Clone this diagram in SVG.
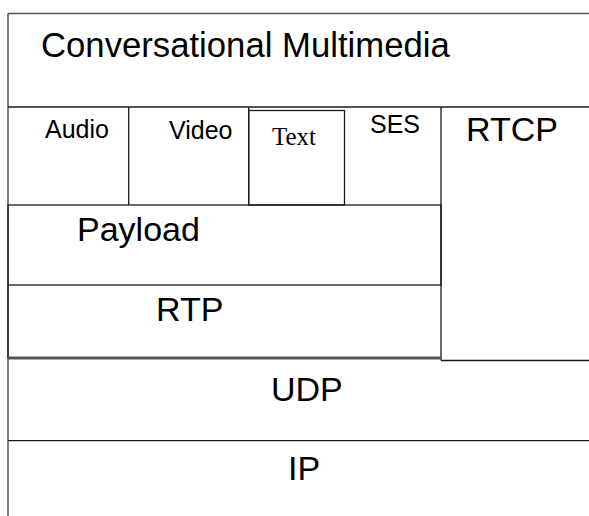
<svg xmlns="http://www.w3.org/2000/svg" width="589" height="516" viewBox="0 0 589 516">
<style>
.ln{stroke:#1a1a1a;stroke-width:1.3;fill:none}
.gr{stroke:#555;stroke-width:1.5;fill:none}
.big{font-family:"Liberation Sans",Arial,sans-serif;font-size:34px;fill:#000}
.sm{font-family:"Liberation Sans",Arial,sans-serif;font-size:25px;fill:#000}
.serif{font-family:"Liberation Serif","Times New Roman",serif;font-size:25px;fill:#000}
</style>
<rect width="589" height="516" fill="#fff"/>
<g id="frame">
<line class="gr" x1="8" y1="13.5" x2="589" y2="13.5"/>
<line class="gr" x1="8" y1="13.5" x2="8" y2="516"/>
</g>
<g id="conversational-multimedia">
<line class="ln" x1="8" y1="107" x2="589" y2="107"/>
<text class="big" x="41" y="57" style="font-size:34.7px">Conversational Multimedia</text>
</g>
<g id="audio">
<line class="ln" x1="128.7" y1="107" x2="128.7" y2="205"/>
<text class="sm" x="45" y="138">Audio</text>
</g>
<g id="video">
<line class="ln" x1="248.7" y1="107" x2="248.7" y2="205"/>
<text class="sm" x="169" y="139">Video</text>
</g>
<g id="text">
<rect class="ln" x="248.7" y="110.5" width="95.8" height="94.5"/>
<text class="serif" x="272" y="145">Text</text>
</g>
<g id="ses">
<text class="sm" x="370" y="133">SES</text>
</g>
<g id="rtcp">
<line class="ln" x1="441" y1="107" x2="441" y2="360.5"/>
<line class="ln" x1="441" y1="360.5" x2="589" y2="360.5"/>
<text class="big" x="466" y="140.5">RTCP</text>
</g>
<g id="payload">
<rect class="ln" x="8" y="205" width="433" height="80"/>
<text class="big" x="77" y="241">Payload</text>
</g>
<g id="rtp">
<line class="ln" x1="8" y1="285" x2="8" y2="358"/>
<line x1="8" y1="358" x2="441" y2="358" stroke="#555" stroke-width="3"/>
<text class="big" x="156" y="321">RTP</text>
</g>
<g id="udp">
<line class="ln" x1="8" y1="440.7" x2="589" y2="440.7"/>
<text class="big" x="271" y="401">UDP</text>
</g>
<g id="ip">
<text class="big" x="288" y="480">IP</text>
</g>
<g id="connectors"></g>
</svg>
